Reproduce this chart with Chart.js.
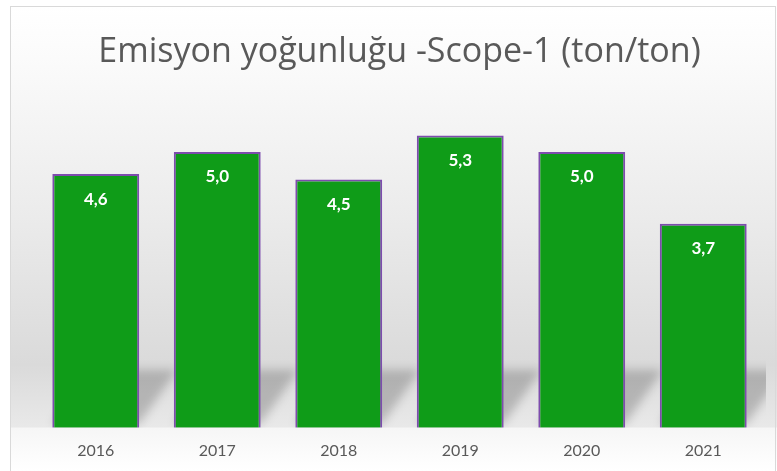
<!DOCTYPE html>
<html><head><meta charset="utf-8">
<script src="https://cdn.jsdelivr.net/npm/chart.js@4"></script>
<style>html,body{margin:0;padding:0;background:#fff;}#wrap{width:777px;height:471px;position:relative;}</style>
</head><body><div id="wrap"><canvas id="c" width="777" height="471"></canvas></div>
<script>
const titleText = "Emisyon yoğunluğu -Scope-1 (ton/ton)";
const categories = ["2016","2017","2018","2019","2020","2021"];
const values = [4.6, 5.0, 4.5, 5.3, 5.0, 3.7];
const valueLabels = ["4,6","5,0","4,5","5,3","5,0","3,7"];

const bgPlugin = {
  id: 'bg',
  beforeDraw(chart) {
    const ctx = chart.ctx;
    const base = chart.chartArea.bottom;
    ctx.save();
    const g = ctx.createLinearGradient(0, 7, 0, base);
    g.addColorStop(0, '#ffffff');
    g.addColorStop(0.12, '#fbfbfb');
    g.addColorStop(0.5, '#ebebeb');
    g.addColorStop(0.85, '#dadada');
    g.addColorStop(1, '#e9e9e9');
    ctx.fillStyle = g;
    ctx.fillRect(11, 7, 766, base - 7);
    const g2 = ctx.createLinearGradient(0, base, 0, 471);
    g2.addColorStop(0, '#f6f6f6');
    g2.addColorStop(1, '#ffffff');
    ctx.fillStyle = g2;
    ctx.fillRect(11, base, 766, 471 - base);
    ctx.strokeStyle = '#d9d9d9';
    ctx.lineWidth = 1;
    ctx.strokeRect(10.5, 6.5, 765, 470);
    ctx.restore();
  },
  beforeDatasetsDraw(chart) {
    const ctx = chart.ctx;
    const meta = chart.getDatasetMeta(0);
    const base = chart.chartArea.bottom;
    const top = base - 58;
    ctx.save();
    ctx.beginPath();
    ctx.rect(chart.chartArea.left - 20, top - 20, chart.chartArea.right + 2 - (chart.chartArea.left - 20), base - (top - 20));
    ctx.clip();
    ctx.filter = 'blur(5px)';
    ctx.fillStyle = 'rgba(0,0,0,0.2)';
    meta.data.forEach(bar => {
      const l = bar.x - bar.width / 2, r = bar.x + bar.width / 2, b = bar.base - 4;
      ctx.beginPath();
      ctx.moveTo(l, b);
      ctx.lineTo(r, b);
      ctx.lineTo(r + 38, top);
      ctx.lineTo(l + 38, top);
      ctx.closePath();
      ctx.fill();
    });
    ctx.restore();
  },
  afterDatasetsDraw(chart) {
    const ctx = chart.ctx;
    const meta = chart.getDatasetMeta(0);
    ctx.save();
    ctx.fillStyle = '#ffffff';
    ctx.font = 'bold 17px Lato, "Open Sans", sans-serif';
    ctx.textAlign = 'center';
    ctx.textBaseline = 'middle';
    meta.data.forEach((bar, i) => {
      ctx.fillText(valueLabels[i], bar.x, bar.y + 25);
    });
    ctx.restore();
  }
};

new Chart(document.getElementById('c'), {
  type: 'bar',
  data: {
    labels: categories,
    datasets: [{
      data: values,
      backgroundColor: '#0f9c18',
      borderColor: '#7d4cad',
      borderWidth: 2,
      categoryPercentage: 1,
      barPercentage: 0.715
    }]
  },
  options: {
    responsive: false,
    animation: false,
    events: [],
    layout: { padding: { left: 35, right: 13, top: 0, bottom: 6 } },
    plugins: {
      legend: { display: false },
      tooltip: { enabled: false },
      title: {
        display: true,
        text: titleText,
        color: '#595959',
        font: { family: '"Open Sans", Lato, sans-serif', size: 34, weight: 'normal' },
        padding: { top: 32, bottom: 24 }
      }
    },
    scales: {
      x: {
        grid: { display: false, drawBorder: false },
        border: { display: false },
        ticks: { color: '#595959', font: { family: 'Lato, "Open Sans", sans-serif', size: 16 }, padding: 5 }
      },
      y: {
        display: false,
        min: 0,
        max: 6
      }
    }
  },
  plugins: [bgPlugin]
});
</script></body></html>
